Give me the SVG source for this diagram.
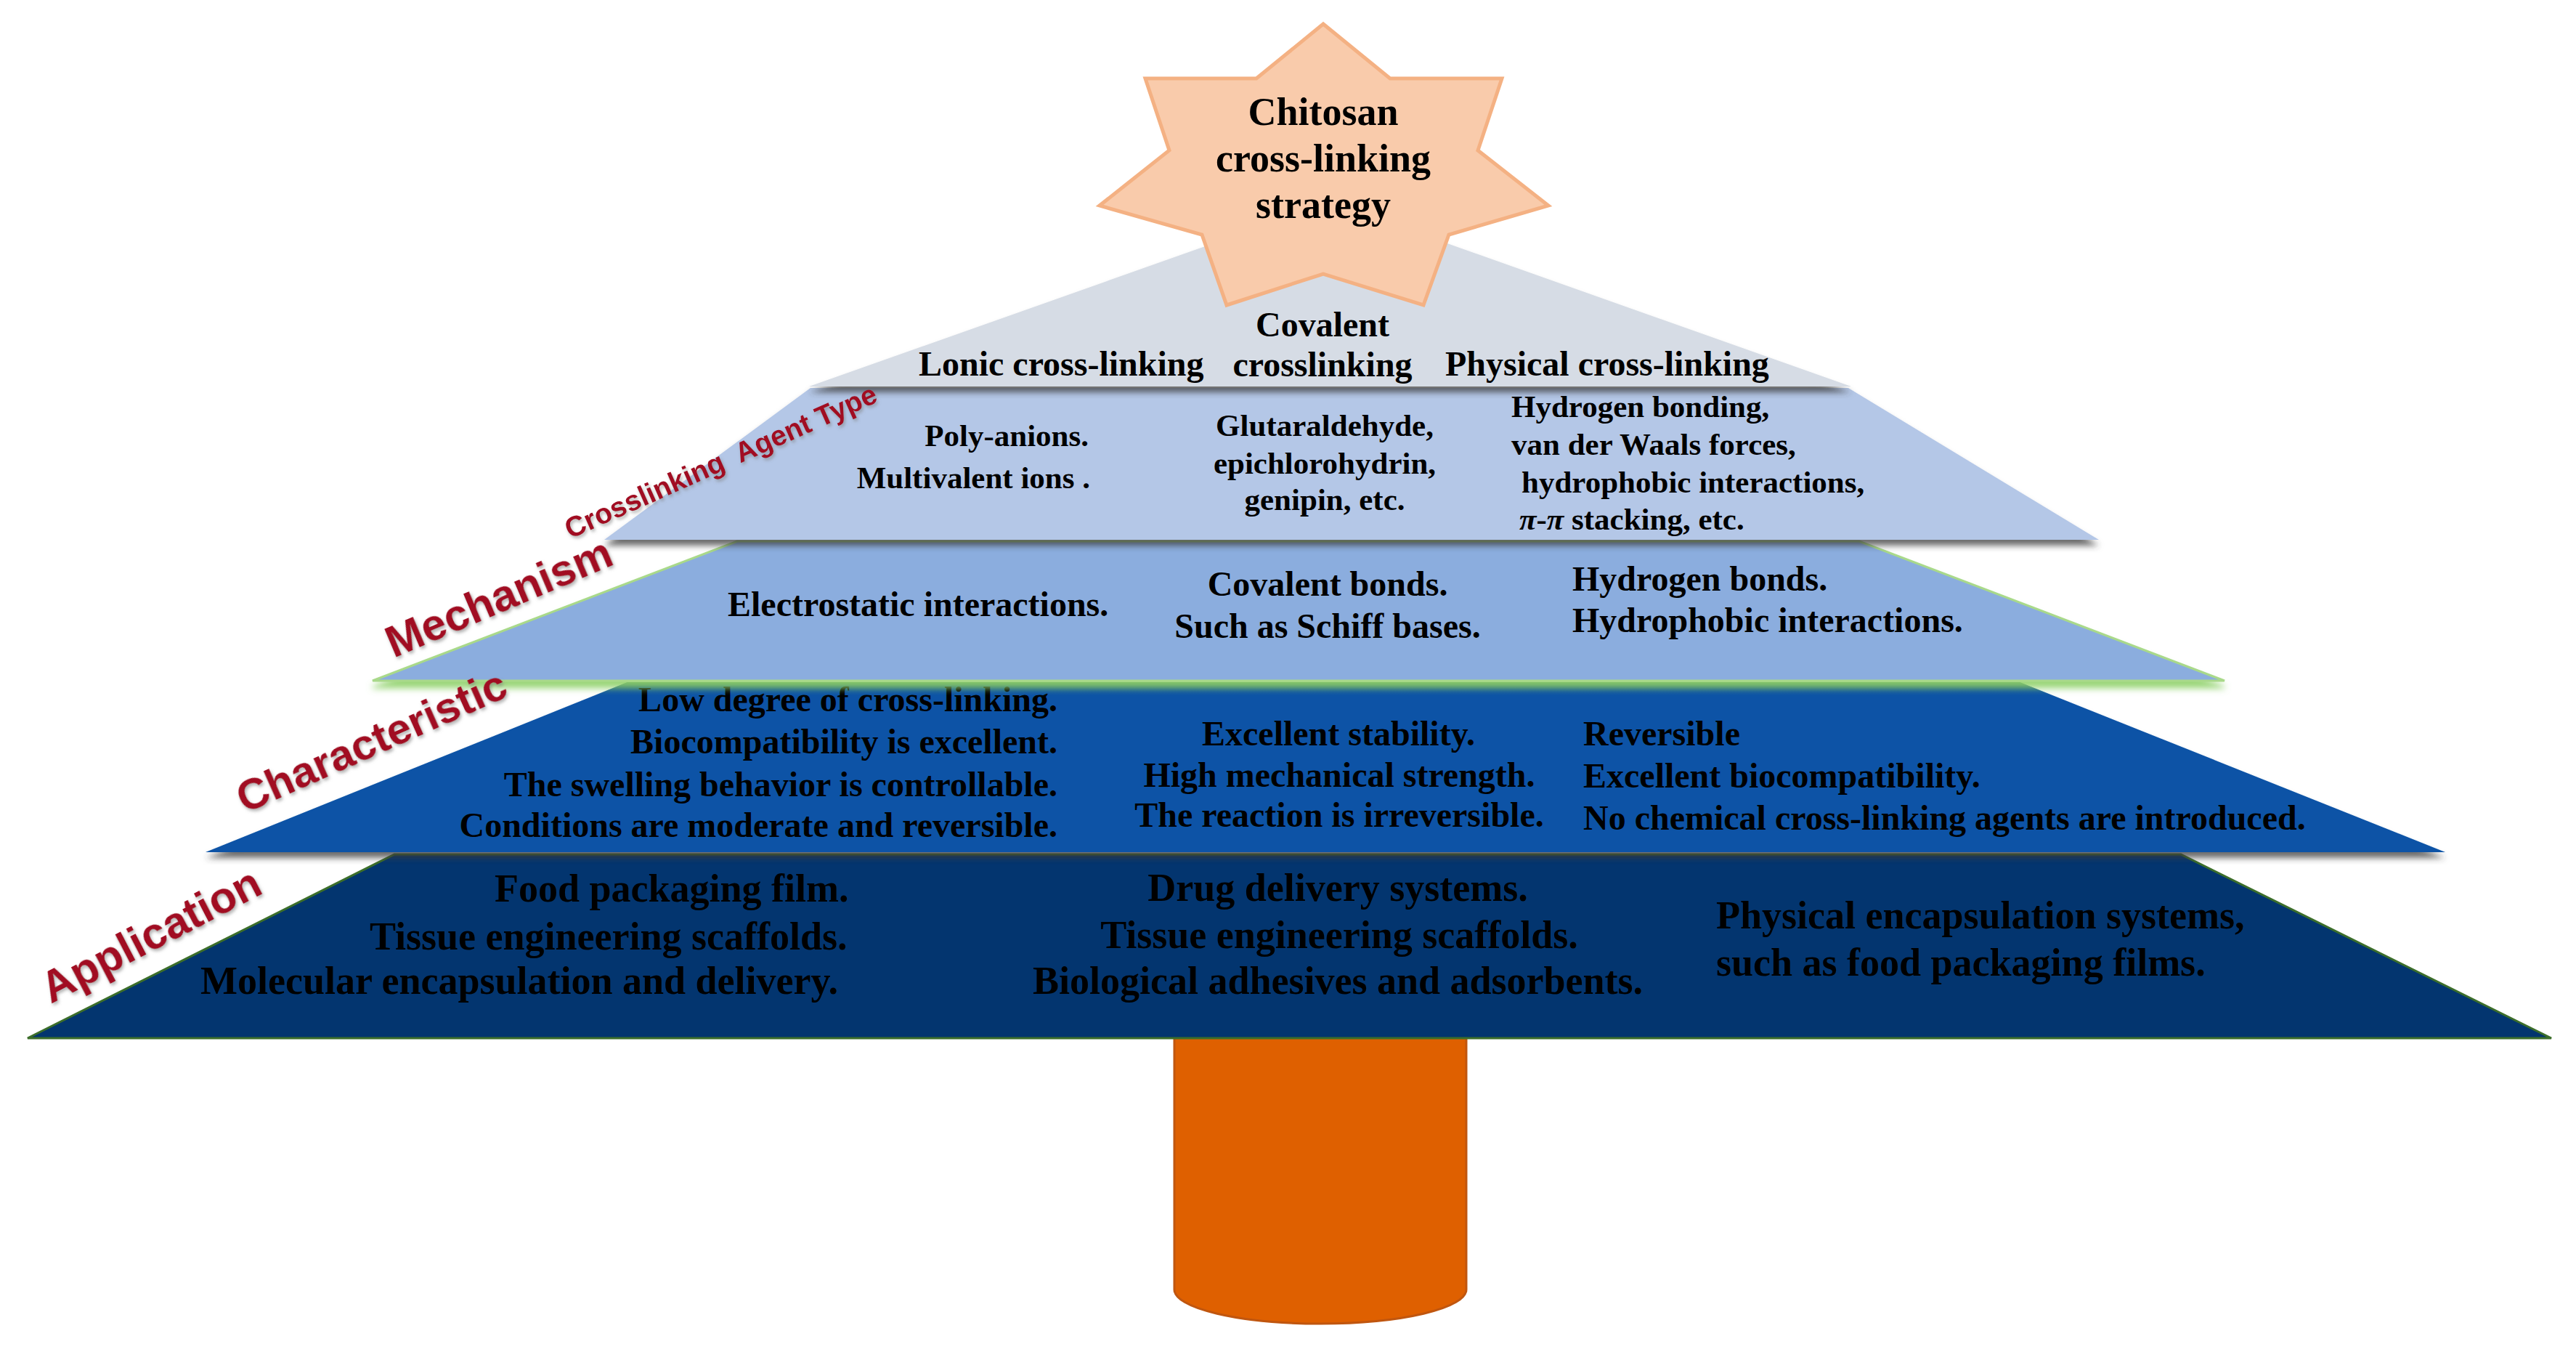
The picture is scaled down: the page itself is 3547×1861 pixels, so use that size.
<svg xmlns="http://www.w3.org/2000/svg" width="3547" height="1861" viewBox="0 0 3547 1861">
  <defs>
    <filter id="shGray" x="-5%" y="-10%" width="110%" height="130%">
      <feDropShadow dx="0" dy="8" stdDeviation="4" flood-color="#3a3a3a" flood-opacity="0.75"/>
    </filter>
    <filter id="shGreen" x="-5%" y="-10%" width="110%" height="130%">
      <feDropShadow dx="0" dy="9" stdDeviation="5" flood-color="#8fd16a" flood-opacity="0.9"/>
    </filter>
    <filter id="shText" x="-10%" y="-30%" width="120%" height="160%">
      <feDropShadow dx="2" dy="3" stdDeviation="2" flood-color="#7f7f7f" flood-opacity="0.6"/>
    </filter>
    <linearGradient id="topBand" x1="0" y1="0" x2="0" y2="1">
      <stop offset="0" stop-color="#1f5d5a" stop-opacity="0.85"/>
      <stop offset="1" stop-color="#0b53a6" stop-opacity="0"/>
    </linearGradient>
  </defs>
  <style>
    .t { font-family: "Liberation Serif", "Times New Roman", serif; font-weight: bold; fill: #000; }
    .s48 { font-size: 48px; }
    .s43 { font-size: 43px; }
    .s54 { font-size: 54px; }
    .mid { text-anchor: middle; }
    .end { text-anchor: end; }
    .lbl { font-family: "Liberation Sans", Arial, sans-serif; font-weight: bold; fill: #a10d24; }
  </style>
  <rect width="3547" height="1861" fill="#ffffff"/>

  <g id="trunk">
    <path d="M1617,1420 L1617,1775 A201,47 0 0 0 2019,1775 L2019,1420 Z" fill="#df6000" stroke="#c0560f" stroke-width="3"/>
  </g>

  <g id="layer-application">
    <polygon points="543,1176 3003,1176 3513,1429 38,1429" fill="#03356f" stroke="#3c6e2a" stroke-width="3"/>
    <text class="t s54" x="681" y="1241">Food packaging film.</text>
    <text class="t s54" x="509" y="1307">Tissue engineering scaffolds.</text>
    <text class="t s54" x="276" y="1368">Molecular encapsulation and delivery.</text>
    <text class="t s54 mid" x="1842" y="1240">Drug delivery systems.</text>
    <text class="t s54 mid" x="1844" y="1305">Tissue engineering scaffolds.</text>
    <text class="t s54 mid" x="1842" y="1368">Biological adhesives and adsorbents.</text>
    <text class="t s54" x="2363" y="1278">Physical encapsulation systems,</text>
    <text class="t s54" x="2363" y="1343">such as food packaging films.</text>
  </g>

  <g id="layer-characteristic">
    <polygon points="864,939 2781,939 3367,1173 283,1173" fill="#0b53a6" filter="url(#shGray)"/>
    <polygon points="864,939 2781,939 2826,957 819,957" fill="url(#topBand)"/>
    <text class="t s48 end" x="1456" y="979">Low degree of cross-linking.</text>
    <text class="t s48 end" x="1456" y="1037">Biocompatibility is excellent.</text>
    <text class="t s48 end" x="1456" y="1096">The swelling behavior is controllable.</text>
    <text class="t s48 end" x="1456" y="1152">Conditions are moderate and reversible.</text>
    <text class="t s48 mid" x="1843" y="1026">Excellent stability.</text>
    <text class="t s48 mid" x="1844" y="1083">High mechanical strength.</text>
    <text class="t s48 mid" x="1844" y="1138">The reaction is irreversible.</text>
    <text class="t s48" x="2180" y="1026">Reversible</text>
    <text class="t s48" x="2180" y="1084">Excellent biocompatibility.</text>
    <text class="t s48" x="2180" y="1142">No chemical cross-linking agents are introduced.</text>
  </g>

  <g id="layer-mechanism">
    <polygon points="1015,745 2560,745 3063,937 513,937" fill="#8badde" stroke="#a9d98a" stroke-width="3" filter="url(#shGreen)"/>
    <text class="t s48" x="1002" y="848">Electrostatic interactions.</text>
    <text class="t s48 mid" x="1828" y="820">Covalent bonds.</text>
    <text class="t s48 mid" x="1828" y="878">Such as Schiff bases.</text>
    <text class="t s48" x="2165" y="813">Hydrogen bonds.</text>
    <text class="t s48" x="2165" y="870">Hydrophobic interactions.</text>
  </g>

  <g id="layer-agent-type">
    <polygon points="1116,534 2545,534 2890,743 832,743" fill="#b4c7e7" filter="url(#shGray)"/>
    <text class="t s43 end" x="1499" y="614">Poly-anions.</text>
    <text class="t s43 end" x="1501" y="672">Multivalent ions .</text>
    <text class="t s43 mid" x="1824" y="600">Glutaraldehyde,</text>
    <text class="t s43 mid" x="1824" y="652">epichlorohydrin,</text>
    <text class="t s43 mid" x="1824" y="702">genipin, etc.</text>
    <text class="t s43" x="2081" y="574">Hydrogen bonding,</text>
    <text class="t s43" x="2081" y="626">van der Waals forces,</text>
    <text class="t s43" x="2095" y="678">hydrophobic interactions,</text>
    <text class="t s43" x="2092" y="729"><tspan font-style="italic">π</tspan>-<tspan font-style="italic">π</tspan> stacking, etc.</text>
  </g>

  <g id="layer-type">
    <polygon points="1832,278 2549,532 1114,532" fill="#d6dce5" filter="url(#shGray)"/>
    <text class="t s48" x="1265" y="517">Lonic cross-linking</text>
    <text class="t s48 mid" x="1821" y="463">Covalent</text>
    <text class="t s48 mid" x="1821" y="518">crosslinking</text>
    <text class="t s48" x="1990" y="517">Physical cross-linking</text>
  </g>

  <g id="star">
    <polygon points="1822,33 1914,108 2068,108 2035,207 2132,283 1995,323 1960,420 1822,377 1689,420 1655,323 1514,283 1610,207 1577,108 1730,108" fill="#f9cbab" stroke="#f4b183" stroke-width="5" stroke-linejoin="miter"/>
    <text class="t s54 mid" x="1822" y="172">Chitosan</text>
    <text class="t s54 mid" x="1822" y="236">cross-linking</text>
    <text class="t s54 mid" x="1822" y="300">strategy</text>
  </g>

  <g id="labels" filter="url(#shText)">
    <text class="lbl" font-size="39" transform="translate(785,742) rotate(-24)">Crosslinking&#160; Agent Type</text>
    <text class="lbl" font-size="61" transform="translate(542,906) rotate(-23)">Mechanism</text>
    <text class="lbl" font-size="60" transform="translate(337,1120) rotate(-24)">Characteristic</text>
    <text class="lbl" font-size="61" transform="translate(70,1382) rotate(-27.5)">Application</text>
  </g>
</svg>
